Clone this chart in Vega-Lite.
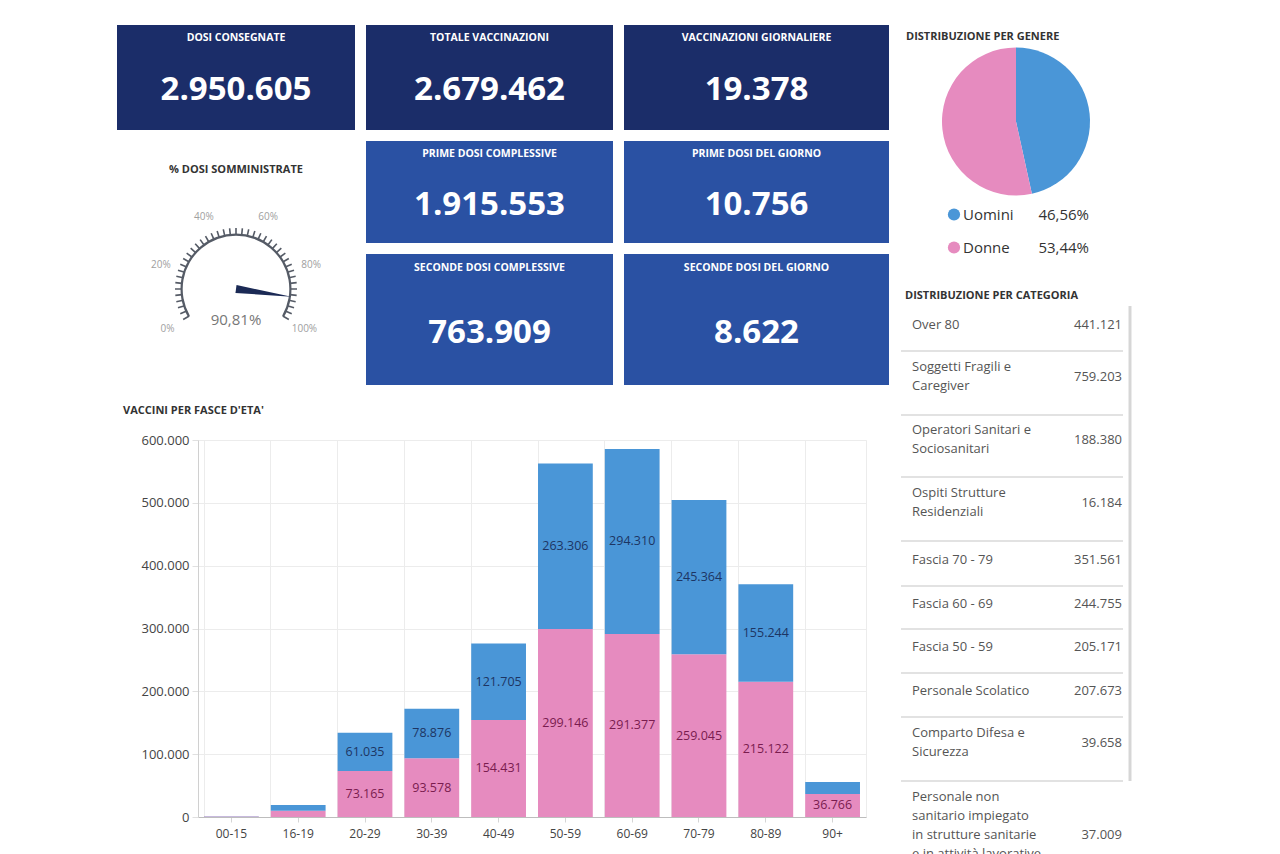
{
  "$schema": "https://vega.github.io/schema/vega-lite/v6.json",
  "background": "#ffffff",
  "padding": {"left": 117, "top": 25, "right": 0, "bottom": 0},
  "config": {
    "locale": {"number": {"decimal": ",", "thousands": ".", "grouping": [3], "currency": ["€", ""]}},
    "font": "Open Sans",
    "view": {"stroke": null},
    "title": {"font": "Open Sans", "fontWeight": "bold", "fontSize": 11, "color": "#333333"},
    "text": {"font": "Open Sans"}
  },
  "datasets": {
    "kpi": [
      {"id": "dosi", "titolo": "DOSI CONSEGNATE", "valore": 2950605},
      {"id": "tot", "titolo": "TOTALE VACCINAZIONI", "valore": 2679462},
      {"id": "giorn", "titolo": "VACCINAZIONI GIORNALIERE", "valore": 19378},
      {"id": "prime", "titolo": "PRIME DOSI COMPLESSIVE", "valore": 1915553},
      {"id": "primeg", "titolo": "PRIME DOSI DEL GIORNO", "valore": 10756},
      {"id": "sec", "titolo": "SECONDE DOSI COMPLESSIVE", "valore": 763909},
      {"id": "secg", "titolo": "SECONDE DOSI DEL GIORNO", "valore": 8622}
    ],
    "titoli": [
      {"id": "genere", "testo": "DISTRIBUZIONE PER GENERE"}
    ],
    "tacche": [
      {"p": 0}, {"p": 2.5}, {"p": 5}, {"p": 7.5}, {"p": 10}, {"p": 12.5}, {"p": 15}, {"p": 17.5},
      {"p": 20}, {"p": 22.5}, {"p": 25}, {"p": 27.5}, {"p": 30}, {"p": 32.5}, {"p": 35}, {"p": 37.5},
      {"p": 40}, {"p": 42.5}, {"p": 45}, {"p": 47.5}, {"p": 50}, {"p": 52.5}, {"p": 55}, {"p": 57.5},
      {"p": 60}, {"p": 62.5}, {"p": 65}, {"p": 67.5}, {"p": 70}, {"p": 72.5}, {"p": 75}, {"p": 77.5},
      {"p": 80}, {"p": 82.5}, {"p": 85}, {"p": 87.5}, {"p": 90}, {"p": 92.5}, {"p": 95}, {"p": 97.5},
      {"p": 100}
    ],
    "etichette": [
      {"p": 0, "t": "0%"}, {"p": 20, "t": "20%"}, {"p": 40, "t": "40%"},
      {"p": 60, "t": "60%"}, {"p": 80, "t": "80%"}, {"p": 100, "t": "100%"}
    ],
    "gauge": [{"quota": 0.9081}],
    "genere": [
      {"genere": "Uomini", "quota": 0.4656},
      {"genere": "Donne", "quota": 0.5344}
    ],
    "categorie": [
      {"n": 1, "categoria": "Over 80", "dosi": 441121},
      {"n": 2, "categoria": "Soggetti Fragili e\nCaregiver", "dosi": 759203},
      {"n": 3, "categoria": "Operatori Sanitari e\nSociosanitari", "dosi": 188380},
      {"n": 4, "categoria": "Ospiti Strutture\nResidenziali", "dosi": 16184},
      {"n": 5, "categoria": "Fascia 70 - 79", "dosi": 351561},
      {"n": 6, "categoria": "Fascia 60 - 69", "dosi": 244755},
      {"n": 7, "categoria": "Fascia 50 - 59", "dosi": 205171},
      {"n": 8, "categoria": "Personale Scolatico", "dosi": 207673},
      {"n": 9, "categoria": "Comparto Difesa e\nSicurezza", "dosi": 39658},
      {"n": 10, "categoria": "Personale non\nsanitario impiegato\nin strutture sanitarie\ne in attività lavorative\na rischio", "dosi": 37009}
    ],
    "eta": [
      {"fascia": "00-15", "genere": "Donne", "dosi": 600},
      {"fascia": "00-15", "genere": "Uomini", "dosi": 500},
      {"fascia": "16-19", "genere": "Donne", "dosi": 9800},
      {"fascia": "16-19", "genere": "Uomini", "dosi": 9200},
      {"fascia": "20-29", "genere": "Donne", "dosi": 73165},
      {"fascia": "20-29", "genere": "Uomini", "dosi": 61035},
      {"fascia": "30-39", "genere": "Donne", "dosi": 93578},
      {"fascia": "30-39", "genere": "Uomini", "dosi": 78876},
      {"fascia": "40-49", "genere": "Donne", "dosi": 154431},
      {"fascia": "40-49", "genere": "Uomini", "dosi": 121705},
      {"fascia": "50-59", "genere": "Donne", "dosi": 299146},
      {"fascia": "50-59", "genere": "Uomini", "dosi": 263306},
      {"fascia": "60-69", "genere": "Donne", "dosi": 291377},
      {"fascia": "60-69", "genere": "Uomini", "dosi": 294310},
      {"fascia": "70-79", "genere": "Donne", "dosi": 259045},
      {"fascia": "70-79", "genere": "Uomini", "dosi": 245364},
      {"fascia": "80-89", "genere": "Donne", "dosi": 215122},
      {"fascia": "80-89", "genere": "Uomini", "dosi": 155244},
      {"fascia": "90+", "genere": "Donne", "dosi": 36766},
      {"fascia": "90+", "genere": "Uomini", "dosi": 19000}
    ]
  },
  "spacing": 11,
  "hconcat": [
    {
      "spacing": 19,
      "vconcat": [
        {
          "spacing": 11,
          "hconcat": [
            {
              "spacing": 34,
              "vconcat": [
                {
                  "width": 238, "height": 105,
                  "view": {"fill": "#1b2d69", "stroke": null},
                  "data": {"name": "kpi"},
                  "transform": [{"filter": "datum.id == 'dosi'"}],
                  "layer": [
                    {"mark": {"type": "text", "color": "#ffffff", "fontWeight": "bold", "fontSize": 10.5, "dy": -40}, "encoding": {"text": {"field": "titolo", "type": "nominal"}}},
                    {"mark": {"type": "text", "color": "#ffffff", "fontWeight": "bold", "fontSize": 33, "dy": 12}, "encoding": {"text": {"field": "valore", "type": "quantitative", "format": ","}}}
                  ]
                },
                {
                  "width": 238, "height": 180,
                  "title": {"text": "% DOSI SOMMINISTRATE", "anchor": "middle", "offset": 24},
                  "layer": [
                    {
                      "data": {"name": "gauge"},
                      "mark": {"type": "arc", "radius": 55.5, "radius2": 53.3, "color": "#555b66"},
                      "encoding": {
                        "theta": {"datum": 0, "type": "quantitative", "scale": {"domain": [0, 100], "range": [-2.0944, 2.0944]}},
                        "theta2": {"datum": 100}
                      }
                    },
                    {
                      "data": {"name": "tacche"},
                      "mark": {"type": "arc", "radius": 61, "radius2": 54, "stroke": "#555b66", "strokeWidth": 1.6},
                      "encoding": {
                        "theta": {"field": "p", "type": "quantitative", "stack": null, "scale": {"domain": [0, 100], "range": [-2.0944, 2.0944]}},
                        "theta2": {"field": "p"}
                      }
                    },
                    {
                      "data": {"name": "etichette"},
                      "mark": {"type": "text", "radius": 79, "fontSize": 10, "color": "#a0a0a0"},
                      "encoding": {
                        "theta": {"field": "p", "type": "quantitative", "stack": null, "scale": {"domain": [0, 100], "range": [-2.0944, 2.0944]}},
                        "text": {"field": "t", "type": "nominal"}
                      }
                    },
                    {
                      "data": {"name": "gauge"},
                      "mark": {"type": "point", "shape": "M0,-0.07L1,0L0,0.07Z", "filled": true, "opacity": 1, "color": "#1b2a55", "size": 12544, "strokeWidth": 0},
                      "encoding": {
                        "angle": {"field": "quota", "type": "quantitative", "scale": {"domain": [0, 1], "range": [150, 390]}}
                      }
                    },
                    {
                      "data": {"name": "gauge"},
                      "mark": {"type": "text", "fontSize": 15, "color": "#777777", "dy": 31},
                      "encoding": {"text": {"field": "quota", "type": "quantitative", "format": ".2%"}}
                    }
                  ]
                }
              ]
            },
            {
              "spacing": 11,
              "vconcat": [
                {
                  "width": 247, "height": 105,
                  "view": {"fill": "#1b2d69", "stroke": null},
                  "data": {"name": "kpi"},
                  "transform": [{"filter": "datum.id == 'tot'"}],
                  "layer": [
                    {"mark": {"type": "text", "color": "#ffffff", "fontWeight": "bold", "fontSize": 10.5, "dy": -40}, "encoding": {"text": {"field": "titolo", "type": "nominal"}}},
                    {"mark": {"type": "text", "color": "#ffffff", "fontWeight": "bold", "fontSize": 33, "dy": 12}, "encoding": {"text": {"field": "valore", "type": "quantitative", "format": ","}}}
                  ]
                },
                {
                  "width": 247, "height": 102,
                  "view": {"fill": "#2a51a3", "stroke": null},
                  "data": {"name": "kpi"},
                  "transform": [{"filter": "datum.id == 'prime'"}],
                  "layer": [
                    {"mark": {"type": "text", "color": "#ffffff", "fontWeight": "bold", "fontSize": 10.5, "dy": -38}, "encoding": {"text": {"field": "titolo", "type": "nominal"}}},
                    {"mark": {"type": "text", "color": "#ffffff", "fontWeight": "bold", "fontSize": 33, "dy": 13}, "encoding": {"text": {"field": "valore", "type": "quantitative", "format": ","}}}
                  ]
                },
                {
                  "width": 247, "height": 131,
                  "view": {"fill": "#2a51a3", "stroke": null},
                  "data": {"name": "kpi"},
                  "transform": [{"filter": "datum.id == 'sec'"}],
                  "layer": [
                    {"mark": {"type": "text", "color": "#ffffff", "fontWeight": "bold", "fontSize": 10.5, "dy": -52}, "encoding": {"text": {"field": "titolo", "type": "nominal"}}},
                    {"mark": {"type": "text", "color": "#ffffff", "fontWeight": "bold", "fontSize": 33, "dy": 13}, "encoding": {"text": {"field": "valore", "type": "quantitative", "format": ","}}}
                  ]
                }
              ]
            },
            {
              "spacing": 11,
              "vconcat": [
                {
                  "width": 265, "height": 105,
                  "view": {"fill": "#1b2d69", "stroke": null},
                  "data": {"name": "kpi"},
                  "transform": [{"filter": "datum.id == 'giorn'"}],
                  "layer": [
                    {"mark": {"type": "text", "color": "#ffffff", "fontWeight": "bold", "fontSize": 10.5, "dy": -40}, "encoding": {"text": {"field": "titolo", "type": "nominal"}}},
                    {"mark": {"type": "text", "color": "#ffffff", "fontWeight": "bold", "fontSize": 33, "dy": 12}, "encoding": {"text": {"field": "valore", "type": "quantitative", "format": ","}}}
                  ]
                },
                {
                  "width": 265, "height": 102,
                  "view": {"fill": "#2a51a3", "stroke": null},
                  "data": {"name": "kpi"},
                  "transform": [{"filter": "datum.id == 'primeg'"}],
                  "layer": [
                    {"mark": {"type": "text", "color": "#ffffff", "fontWeight": "bold", "fontSize": 10.5, "dy": -38}, "encoding": {"text": {"field": "titolo", "type": "nominal"}}},
                    {"mark": {"type": "text", "color": "#ffffff", "fontWeight": "bold", "fontSize": 33, "dy": 13}, "encoding": {"text": {"field": "valore", "type": "quantitative", "format": ","}}}
                  ]
                },
                {
                  "width": 265, "height": 131,
                  "view": {"fill": "#2a51a3", "stroke": null},
                  "data": {"name": "kpi"},
                  "transform": [{"filter": "datum.id == 'secg'"}],
                  "layer": [
                    {"mark": {"type": "text", "color": "#ffffff", "fontWeight": "bold", "fontSize": 10.5, "dy": -52}, "encoding": {"text": {"field": "titolo", "type": "nominal"}}},
                    {"mark": {"type": "text", "color": "#ffffff", "fontWeight": "bold", "fontSize": 33, "dy": 13}, "encoding": {"text": {"field": "valore", "type": "quantitative", "format": ","}}}
                  ]
                }
              ]
            }
          ]
        },
        {
          "spacing": 4,
          "hconcat": [
            {
              "width": 1, "height": 377,
              "data": {"name": "gauge"},
              "mark": {"type": "text"},
              "encoding": {"text": {"value": ""}}
            },
            {
              "width": 668, "height": 377,
              "view": {"stroke": "#ececec"},
              "title": {"text": "VACCINI PER FASCE D'ETA'", "anchor": "start", "frame": "bounds", "offset": 18, "dx": -18},
              "data": {"name": "eta"},
              "layer": [
                {
                  "mark": {"type": "bar"},
                  "encoding": {
                    "x": {
                      "field": "fascia", "type": "nominal", "sort": null,
                      "scale": {"paddingInner": 0.18, "paddingOuter": 0.09},
                      "axis": {"title": null, "labelAngle": 0, "labelFontSize": 12, "labelColor": "#444444", "labelPadding": 6, "domainColor": "#bdbdbd", "ticks": true, "tickSize": 5, "tickColor": "#d5d5d5", "grid": false}
                    },
                    "y": {
                      "field": "dosi", "type": "quantitative", "stack": "zero",
                      "scale": {"domain": [0, 600000], "nice": false},
                      "axis": {
                        "title": null,
                        "labelExpr": "format(datum.value, ',')",
                        "values": [0, 50000, 100000, 150000, 200000, 250000, 300000, 350000, 400000, 450000, 500000, 550000, 600000],
                        "labelFontSize": 13, "labelColor": "#444444", "labelPadding": 3,
                        "tickSize": 6, "tickColor": "#e0e0e0", "domainColor": "#d0d0d0",
                        "grid": true, "gridColor": "#ececec"
                      }
                    },
                    "color": {
                      "field": "genere", "type": "nominal",
                      "scale": {"domain": ["Uomini", "Donne"], "range": ["#4a96d7", "#e68bbf"]},
                      "legend": null
                    },
                    "order": {"field": "genere", "sort": "ascending"}
                  }
                },
                {
                  "mark": {"type": "text", "fontSize": 12.5},
                  "encoding": {
                    "x": {
                      "field": "fascia", "type": "nominal", "sort": null,
                      "axis": {"orient": "top", "title": null, "labels": false, "ticks": false, "domain": false, "grid": true, "gridColor": "#ececec", "bandPosition": 0}
                    },
                    "y": {"field": "dosi", "type": "quantitative", "stack": "zero", "bandPosition": 0.5},
                    "detail": {"field": "genere", "type": "nominal"},
                    "order": {"field": "genere", "sort": "ascending"},
                    "text": {
                      "condition": {"test": "datum.dosi > 25000", "field": "dosi", "type": "quantitative", "format": ","},
                      "value": ""
                    },
                    "color": {
                      "condition": {"test": "datum.genere == 'Uomini'", "value": "#1d3563"},
                      "value": "#7a1c4f"
                    }
                  }
                }
              ],
              "resolve": {"axis": {"x": "independent"}}
            }
          ]
        }
      ]
    },
    {
      "spacing": 25,
      "vconcat": [
        {
          "spacing": 0,
          "vconcat": [
            {
              "width": 230, "height": 173,
              "layer": [
                {
                  "data": {"name": "genere"},
                  "mark": {"type": "arc", "radius": 74, "yOffset": 10},
                  "encoding": {
                    "theta": {"field": "quota", "type": "quantitative", "stack": true},
                    "color": {
                      "field": "genere", "type": "nominal",
                      "scale": {"domain": ["Uomini", "Donne"], "range": ["#4a96d7", "#e68bbf"]},
                      "legend": null
                    },
                    "order": {"field": "genere", "sort": "descending"}
                  }
                },
                {
                  "data": {"name": "titoli"},
                  "transform": [{"filter": "datum.id == 'genere'"}],
                  "mark": {"type": "text", "align": "left", "dx": -110, "dy": -75, "fontSize": 11, "fontWeight": "bold", "color": "#333333"},
                  "encoding": {"text": {"field": "testo", "type": "nominal"}}
                }
              ]
            },
            {
              "width": 230, "height": 66,
              "data": {"name": "genere"},
              "encoding": {
                "y": {"field": "genere", "type": "nominal", "sort": ["Uomini", "Donne"], "scale": {"paddingInner": 0, "paddingOuter": 0}, "axis": null}
              },
              "layer": [
                {
                  "mark": {"type": "circle", "size": 150, "opacity": 1, "xOffset": -62},
                  "encoding": {
                    "color": {
                      "field": "genere", "type": "nominal",
                      "scale": {"domain": ["Uomini", "Donne"], "range": ["#4a96d7", "#e68bbf"]},
                      "legend": null
                    }
                  }
                },
                {
                  "mark": {"type": "text", "align": "left", "dx": -53, "fontSize": 15, "color": "#333333"},
                  "encoding": {"text": {"field": "genere", "type": "nominal"}}
                },
                {
                  "mark": {"type": "text", "align": "right", "dx": 73, "fontSize": 15, "color": "#333333"},
                  "encoding": {"text": {"field": "quota", "type": "quantitative", "format": ".2%"}}
                }
              ]
            }
          ]
        },
        {
          "spacing": 0,
          "bounds": "flush",
          "vconcat": [
            {
              "width": 222, "height": 45,
              "title": {"text": "DISTRIBUZIONE PER CATEGORIA", "anchor": "start", "dx": 5, "offset": 4},
              "data": {"name": "categorie"},
              "transform": [{"filter": "datum.n == 1"}],
              "layer": [
                {"mark": {"type": "text", "align": "left", "dx": -100, "dy": -4, "fontSize": 13, "color": "#555555", "lineBreak": "\n", "lineHeight": 19}, "encoding": {"text": {"field": "categoria", "type": "nominal"}}},
                {"mark": {"type": "text", "align": "right", "dx": 110, "dy": -4, "fontSize": 13, "color": "#555555"}, "encoding": {"text": {"field": "dosi", "type": "quantitative", "format": ","}}},
                {"mark": {"type": "rule", "color": "#e2e2e2", "strokeWidth": 2}, "encoding": {"y": {"value": "height"}}},
                {"mark": {"type": "rule", "color": "#d6d6d6", "strokeWidth": 3, "xOffset": 7}, "encoding": {"x": {"value": "width"}}}
              ]
            },
            {
              "width": 222, "height": 64,
              "data": {"name": "categorie"},
              "transform": [{"filter": "datum.n == 2"}],
              "layer": [
                {"mark": {"type": "text", "align": "left", "dx": -100, "dy": -16, "fontSize": 13, "color": "#555555", "lineBreak": "\n", "lineHeight": 19}, "encoding": {"text": {"field": "categoria", "type": "nominal"}}},
                {"mark": {"type": "text", "align": "right", "dx": 110, "dy": -6, "fontSize": 13, "color": "#555555"}, "encoding": {"text": {"field": "dosi", "type": "quantitative", "format": ","}}},
                {"mark": {"type": "rule", "color": "#e2e2e2", "strokeWidth": 2}, "encoding": {"y": {"value": "height"}}},
                {"mark": {"type": "rule", "color": "#d6d6d6", "strokeWidth": 3, "xOffset": 7}, "encoding": {"x": {"value": "width"}}}
              ]
            },
            {
              "width": 222, "height": 62,
              "data": {"name": "categorie"},
              "transform": [{"filter": "datum.n == 3"}],
              "layer": [
                {"mark": {"type": "text", "align": "left", "dx": -100, "dy": -16, "fontSize": 13, "color": "#555555", "lineBreak": "\n", "lineHeight": 19}, "encoding": {"text": {"field": "categoria", "type": "nominal"}}},
                {"mark": {"type": "text", "align": "right", "dx": 110, "dy": -6, "fontSize": 13, "color": "#555555"}, "encoding": {"text": {"field": "dosi", "type": "quantitative", "format": ","}}},
                {"mark": {"type": "rule", "color": "#e2e2e2", "strokeWidth": 2}, "encoding": {"y": {"value": "height"}}},
                {"mark": {"type": "rule", "color": "#d6d6d6", "strokeWidth": 3, "xOffset": 7}, "encoding": {"x": {"value": "width"}}}
              ]
            },
            {
              "width": 222, "height": 64,
              "data": {"name": "categorie"},
              "transform": [{"filter": "datum.n == 4"}],
              "layer": [
                {"mark": {"type": "text", "align": "left", "dx": -100, "dy": -16, "fontSize": 13, "color": "#555555", "lineBreak": "\n", "lineHeight": 19}, "encoding": {"text": {"field": "categoria", "type": "nominal"}}},
                {"mark": {"type": "text", "align": "right", "dx": 110, "dy": -6, "fontSize": 13, "color": "#555555"}, "encoding": {"text": {"field": "dosi", "type": "quantitative", "format": ","}}},
                {"mark": {"type": "rule", "color": "#e2e2e2", "strokeWidth": 2}, "encoding": {"y": {"value": "height"}}},
                {"mark": {"type": "rule", "color": "#d6d6d6", "strokeWidth": 3, "xOffset": 7}, "encoding": {"x": {"value": "width"}}}
              ]
            },
            {
              "width": 222, "height": 45,
              "data": {"name": "categorie"},
              "transform": [{"filter": "datum.n == 5"}],
              "layer": [
                {"mark": {"type": "text", "align": "left", "dx": -100, "dy": -4, "fontSize": 13, "color": "#555555", "lineBreak": "\n", "lineHeight": 19}, "encoding": {"text": {"field": "categoria", "type": "nominal"}}},
                {"mark": {"type": "text", "align": "right", "dx": 110, "dy": -4, "fontSize": 13, "color": "#555555"}, "encoding": {"text": {"field": "dosi", "type": "quantitative", "format": ","}}},
                {"mark": {"type": "rule", "color": "#e2e2e2", "strokeWidth": 2}, "encoding": {"y": {"value": "height"}}},
                {"mark": {"type": "rule", "color": "#d6d6d6", "strokeWidth": 3, "xOffset": 7}, "encoding": {"x": {"value": "width"}}}
              ]
            },
            {
              "width": 222, "height": 43,
              "data": {"name": "categorie"},
              "transform": [{"filter": "datum.n == 6"}],
              "layer": [
                {"mark": {"type": "text", "align": "left", "dx": -100, "dy": -4, "fontSize": 13, "color": "#555555", "lineBreak": "\n", "lineHeight": 19}, "encoding": {"text": {"field": "categoria", "type": "nominal"}}},
                {"mark": {"type": "text", "align": "right", "dx": 110, "dy": -4, "fontSize": 13, "color": "#555555"}, "encoding": {"text": {"field": "dosi", "type": "quantitative", "format": ","}}},
                {"mark": {"type": "rule", "color": "#e2e2e2", "strokeWidth": 2}, "encoding": {"y": {"value": "height"}}},
                {"mark": {"type": "rule", "color": "#d6d6d6", "strokeWidth": 3, "xOffset": 7}, "encoding": {"x": {"value": "width"}}}
              ]
            },
            {
              "width": 222, "height": 44,
              "data": {"name": "categorie"},
              "transform": [{"filter": "datum.n == 7"}],
              "layer": [
                {"mark": {"type": "text", "align": "left", "dx": -100, "dy": -4, "fontSize": 13, "color": "#555555", "lineBreak": "\n", "lineHeight": 19}, "encoding": {"text": {"field": "categoria", "type": "nominal"}}},
                {"mark": {"type": "text", "align": "right", "dx": 110, "dy": -4, "fontSize": 13, "color": "#555555"}, "encoding": {"text": {"field": "dosi", "type": "quantitative", "format": ","}}},
                {"mark": {"type": "rule", "color": "#e2e2e2", "strokeWidth": 2}, "encoding": {"y": {"value": "height"}}},
                {"mark": {"type": "rule", "color": "#d6d6d6", "strokeWidth": 3, "xOffset": 7}, "encoding": {"x": {"value": "width"}}}
              ]
            },
            {
              "width": 222, "height": 44,
              "data": {"name": "categorie"},
              "transform": [{"filter": "datum.n == 8"}],
              "layer": [
                {"mark": {"type": "text", "align": "left", "dx": -100, "dy": -4, "fontSize": 13, "color": "#555555", "lineBreak": "\n", "lineHeight": 19}, "encoding": {"text": {"field": "categoria", "type": "nominal"}}},
                {"mark": {"type": "text", "align": "right", "dx": 110, "dy": -4, "fontSize": 13, "color": "#555555"}, "encoding": {"text": {"field": "dosi", "type": "quantitative", "format": ","}}},
                {"mark": {"type": "rule", "color": "#e2e2e2", "strokeWidth": 2}, "encoding": {"y": {"value": "height"}}},
                {"mark": {"type": "rule", "color": "#d6d6d6", "strokeWidth": 3, "xOffset": 7}, "encoding": {"x": {"value": "width"}}}
              ]
            },
            {
              "width": 222, "height": 64,
              "data": {"name": "categorie"},
              "transform": [{"filter": "datum.n == 9"}],
              "layer": [
                {"mark": {"type": "text", "align": "left", "dx": -100, "dy": -16, "fontSize": 13, "color": "#555555", "lineBreak": "\n", "lineHeight": 19}, "encoding": {"text": {"field": "categoria", "type": "nominal"}}},
                {"mark": {"type": "text", "align": "right", "dx": 110, "dy": -6, "fontSize": 13, "color": "#555555"}, "encoding": {"text": {"field": "dosi", "type": "quantitative", "format": ","}}},
                {"mark": {"type": "rule", "color": "#e2e2e2", "strokeWidth": 2}, "encoding": {"y": {"value": "height"}}},
                {"mark": {"type": "rule", "color": "#d6d6d6", "strokeWidth": 3, "xOffset": 7}, "encoding": {"x": {"value": "width"}}}
              ]
            },
            {
              "width": 222, "height": 74,
              "data": {"name": "categorie"},
              "transform": [{"filter": "datum.n == 10"}],
              "layer": [
                {"mark": {"type": "text", "align": "left", "dx": -100, "dy": -21, "fontSize": 13, "color": "#555555", "lineBreak": "\n", "lineHeight": 19, "clip": true}, "encoding": {"text": {"field": "categoria", "type": "nominal"}}},
                {"mark": {"type": "text", "align": "right", "dx": 110, "dy": 17, "fontSize": 13, "color": "#555555"}, "encoding": {"text": {"field": "dosi", "type": "quantitative", "format": ","}}}
              ]
            }
          ]
        }
      ]
    }
  ]
}
